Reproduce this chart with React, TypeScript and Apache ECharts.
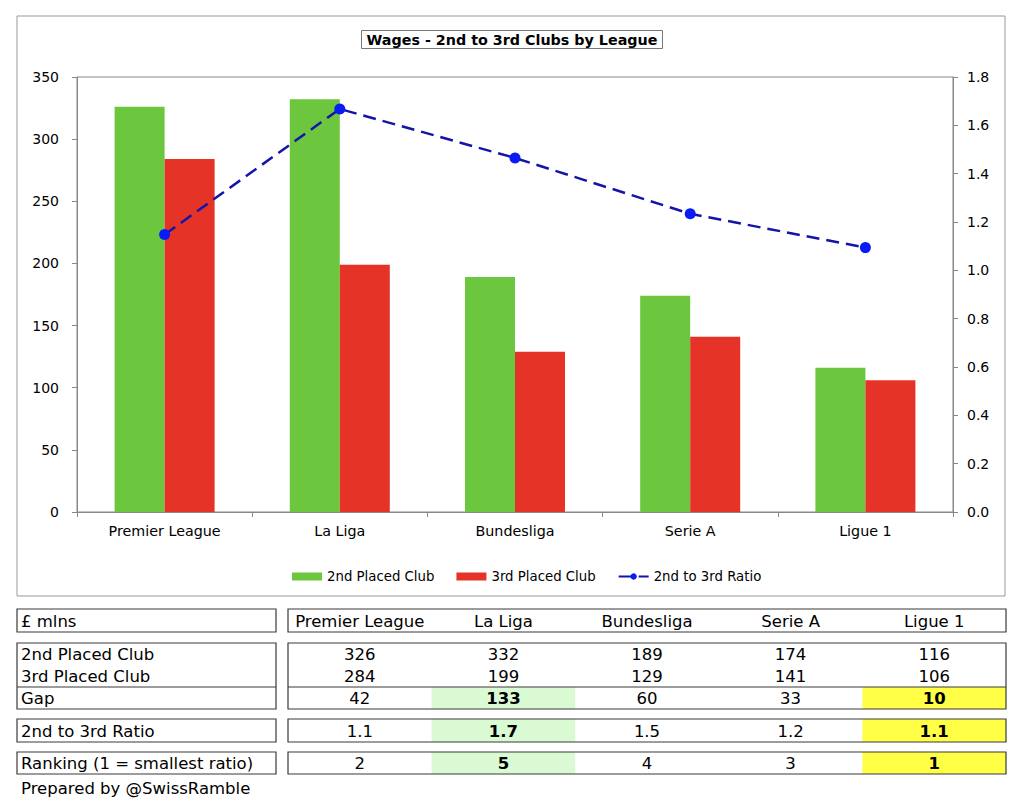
import React, { useEffect, useRef } from "react";
import * as echarts from "echarts";

const leagues = ["Premier League", "La Liga", "Bundesliga", "Serie A", "Ligue 1"];
const secondPlaced = [326, 332, 189, 174, 116];
const thirdPlaced = [284, 199, 129, 141, 106];
const ratioLine = [1.148, 1.668, 1.465, 1.234, 1.094];

const gapRow = ["42", "133", "60", "33", "10"];
const ratioRow = ["1.1", "1.7", "1.5", "1.2", "1.1"];
const rankRow = ["2", "5", "4", "3", "1"];
const highlight = ["none", "green", "none", "none", "yellow"];

const FONT = "DejaVu Sans";
const GREEN = "#6cc63e";
const RED = "#e53327";

function buildTable(): any[] {
  const els: any[] = [];
  const border = "#3a3a3a";
  const lw = 1.2;
  const L0 = 17, L1 = 276, R0 = 288, R1 = 1006;
  const colW = (R1 - R0) / 5;
  const cx = (i: number) => R0 + colW * i + colW / 2;
  const txt = (text: string, x: number, y: number, align = "center", bold = false) => ({
    type: "text",
    style: { text, x, y, fontSize: 16.5, fontFamily: FONT, fontWeight: bold ? "bold" : "normal", fill: "#000", align, verticalAlign: "middle" },
    z: 10,
  });
  const box = (x0: number, y0: number, x1: number, y1: number) => ({
    type: "rect",
    shape: { x: x0, y: y0, width: x1 - x0, height: y1 - y0 },
    style: { fill: "none", stroke: border, lineWidth: lw },
    z: 9,
  });
  const fillCells = (y0: number, y1: number) => {
    highlight.forEach((h, i) => {
      if (h === "none") return;
      els.push({
        type: "rect",
        shape: { x: R0 + colW * i, y: y0, width: colW, height: y1 - y0 },
        style: { fill: h === "green" ? "#dafad3" : "#ffff45" },
        z: 5,
      });
    });
  };
  // header
  els.push(box(L0, 609, L1, 632), box(R0, 609, R1, 632));
  els.push(txt("£ mlns", 21, 621, "left"));
  leagues.forEach((l, i) => els.push(txt(l, cx(i), 621)));
  // values block
  fillCells(687, 709);
  els.push(box(L0, 643, L1, 709), box(R0, 643, R1, 709));
  els.push({ type: "line", shape: { x1: L0, y1: 687, x2: L1, y2: 687 }, style: { stroke: border, lineWidth: lw }, z: 9 });
  els.push({ type: "line", shape: { x1: R0, y1: 687, x2: R1, y2: 687 }, style: { stroke: border, lineWidth: lw }, z: 9 });
  els.push(txt("2nd Placed Club", 21, 654, "left"));
  els.push(txt("3rd Placed Club", 21, 676, "left"));
  els.push(txt("Gap", 21, 698, "left"));
  secondPlaced.forEach((v, i) => els.push(txt(String(v), cx(i), 654)));
  thirdPlaced.forEach((v, i) => els.push(txt(String(v), cx(i), 676)));
  gapRow.forEach((v, i) => els.push(txt(v, cx(i), 698, "center", highlight[i] !== "none")));
  // ratio row
  fillCells(719, 742);
  els.push(box(L0, 719, L1, 742), box(R0, 719, R1, 742));
  els.push(txt("2nd to 3rd Ratio", 21, 731, "left"));
  ratioRow.forEach((v, i) => els.push(txt(v, cx(i), 731, "center", highlight[i] !== "none")));
  // ranking row
  fillCells(752, 774);
  els.push(box(L0, 752, L1, 774), box(R0, 752, R1, 774));
  els.push(txt("Ranking (1 = smallest ratio)", 21, 763, "left"));
  rankRow.forEach((v, i) => els.push(txt(v, cx(i), 763, "center", highlight[i] !== "none")));
  // footer
  els.push(txt("Prepared by @SwissRamble", 21, 788, "left"));
  // chart outer border
  els.push({
    type: "rect",
    shape: { x: 17, y: 16, width: 988, height: 580 },
    style: { fill: "none", stroke: "#999", lineWidth: 1 },
    z: 1,
  });
  return els;
}

export default function App() {
  const ref = useRef<HTMLDivElement>(null);
  useEffect(() => {
    if (!ref.current) return;
    const chart = echarts.init(ref.current, undefined, { renderer: "svg" });
    chart.setOption({
      animation: false,
      backgroundColor: "#fff",
      textStyle: { fontFamily: FONT },
      title: {
        text: "Wages - 2nd to 3rd Clubs by League",
        left: "center",
        top: 30,
        padding: [3, 5, 2, 5],
        borderColor: "#777",
        borderWidth: 1,
        textStyle: { fontFamily: FONT, fontSize: 14.3, fontWeight: "bold", color: "#000" },
      },
      legend: {
        left: 287,
        top: 565,
        itemWidth: 30,
        itemHeight: 8,
        itemGap: 22,
        textStyle: { fontFamily: FONT, fontSize: 13.3, color: "#000" },
        data: [
          { name: "2nd Placed Club", icon: "rect" },
          { name: "3rd Placed Club", icon: "rect" },
          { name: "2nd to 3rd Ratio" },
        ],
      },
      grid: { left: 77, right: 71, top: 77, bottom: 290, show: true, borderColor: "#888", borderWidth: 1 },
      xAxis: {
        type: "category",
        data: leagues,
        axisLine: { lineStyle: { color: "#888" } },
        axisTick: { show: true, length: 5, lineStyle: { color: "#888" } },
        axisLabel: { color: "#000", fontSize: 14.3, margin: 12, fontFamily: FONT },
      },
      yAxis: [
        {
          type: "value",
          min: 0,
          max: 350,
          interval: 50,
          axisLine: { show: true, lineStyle: { color: "#888" } },
          axisTick: { show: true, length: 5, lineStyle: { color: "#888" } },
          axisLabel: { color: "#000", fontSize: 14, margin: 18, fontFamily: FONT },
          splitLine: { show: false },
        },
        {
          type: "value",
          min: 0,
          max: 1.8,
          interval: 0.2,
          position: "right",
          axisLine: { show: true, lineStyle: { color: "#888" } },
          axisTick: { show: true, length: 5, lineStyle: { color: "#888" } },
          axisLabel: { color: "#000", fontSize: 14, margin: 14, fontFamily: FONT, formatter: (v: number) => v.toFixed(1) },
          splitLine: { show: false },
        },
      ],
      series: [
        {
          name: "2nd Placed Club",
          type: "bar",
          data: secondPlaced,
          itemStyle: { color: GREEN },
          barWidth: 50,
          barGap: "0%",
        },
        {
          name: "3rd Placed Club",
          type: "bar",
          data: thirdPlaced,
          itemStyle: { color: RED },
          barWidth: 50,
          barGap: "0%",
        },
        {
          name: "2nd to 3rd Ratio",
          type: "line",
          yAxisIndex: 1,
          data: ratioLine,
          symbol: "circle",
          symbolSize: 11,
          itemStyle: { color: "#0a1cf5" },
          lineStyle: { color: "#1414a8", width: 2.5, type: [13, 7] },
          z: 5,
        },
      ],
      graphic: buildTable(),
    });
    return () => chart.dispose();
  }, []);
  return (
    <div
      ref={ref}
      style={{ position: "absolute", left: 0, top: 0, width: 1024, height: 802 }}
    />
  );
}
